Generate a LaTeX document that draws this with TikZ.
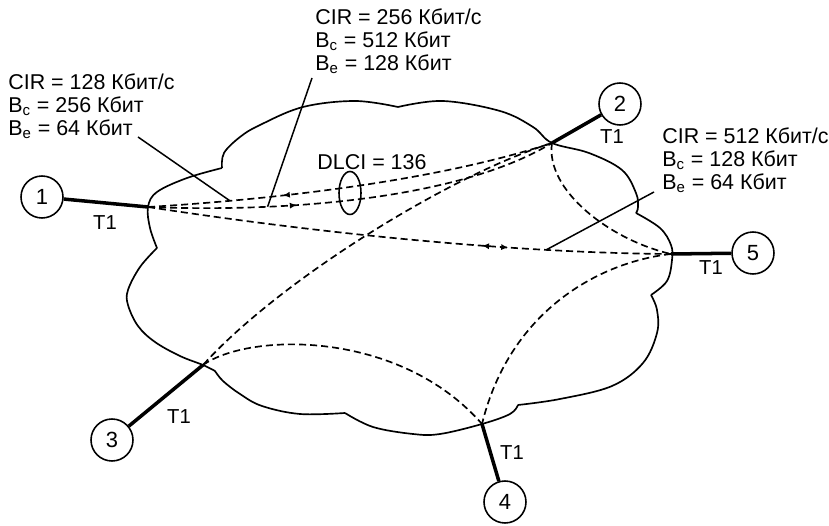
\documentclass[tikz,border=0pt]{standalone}
\usepackage{fontspec}
\setmainfont{Liberation Sans}
\usetikzlibrary{shapes.geometric,decorations.markings,arrows.meta}

\begin{document}
\begin{tikzpicture}[x=0.02cm,y=-0.02cm]
\tikzstyle{station} = [circle, draw=black, line width=0.9pt, minimum size=0.84cm, inner sep=0pt, font=\fontsize{12.5}{13}\selectfont]
\tikzstyle{info} = [align=left, inner sep=0pt, anchor=north west, font=\fontsize{12.2}{13.2}\selectfont]
\tikzstyle{tlabel} = [inner sep=0pt, font=\fontsize{11.5}{12}\selectfont]
\tikzstyle{trunk} = [line width=2pt]
\tikzstyle{cloudline} = [line width=0.95pt, line join=round]
\tikzstyle{vc} = [line width=0.95pt, dash pattern=on 4pt off 2.3pt]
\tikzstyle{leader} = [line width=0.85pt]
\tikzstyle{fwd} = [postaction={decorate, decoration={markings, mark=at position #1 with {\arrow{Latex[length=4pt,width=3.5pt]}}}}]
\tikzstyle{bwd} = [postaction={decorate, decoration={markings, mark=at position #1 with {\arrowreversed{Latex[length=4pt,width=3.5pt]}}}}]
\useasboundingbox (0,0) rectangle (829,526);
\node (n1) [station] at (42,197) {1};
\node (n2) [station] at (620,104) {2};
\node (n3) [station] at (112,440) {3};
\node (n4) [station] at (505,502) {4};
\node (n5) [station] at (753,253) {5};
\coordinate (p1) at (148,207);
\coordinate (p2) at (552,143);
\coordinate (p3) at (203,365);
\coordinate (p4) at (482,424);
\coordinate (p5) at (671,254);
\draw [cloudline] plot [smooth, tension=0.6] coordinates {(157,248) (150,228) (148,207) (157,192) (187,178) (222,168)}
  plot [smooth, tension=0.6] coordinates {(222,168) (224,153) (240,137) (260,125) (303,107) (355,101) (398,107)}
  plot [smooth, tension=0.6] coordinates {(398,107) (443,101) (500,111) (533,127) (552,143) (589,153) (622,170) (636,193) (638,207) (636,213)}
  plot [smooth, tension=0.6] coordinates {(636,213) (660,228) (671,245) (672,260) (667,281) (651,295)}
  plot [smooth, tension=0.6] coordinates {(651,295) (657,310) (657,333) (643,363) (612,386) (560,399) (518,405)}
  plot [smooth, tension=0.6] coordinates {(518,405) (510,414) (482,424) (440,434) (413,434) (373,427) (345,413)}
  plot [smooth, tension=0.6] coordinates {(345,413) (300,414) (262,406) (240,394) (223,381) (215,371)}
  plot [smooth, tension=0.6] coordinates {(215,371) (203,365) (180,356) (155,342) (138,326) (128,305) (128,290) (140,267) (157,248)};
\draw [vc, bwd=0.33] (p1) .. controls (280,199) and (440,180) .. coordinate[pos=0.2] (tap1) (p2);
\draw [vc, fwd=0.36] (p1) .. controls (300,213) and (465,196) .. coordinate[pos=0.26] (tap2) (p2);
\draw [vc, bwd=0.64, fwd=0.69] (p1) .. controls (330,235) and (520,253) .. coordinate[pos=0.74] (tap5) (p5);
\draw [vc] (p2) .. controls (450,175) and (280,280) .. (p3);
\draw [vc] (p2) .. controls (545,190) and (610,240) .. (p5);
\draw [vc] (p5) .. controls (600,262) and (510,310) .. (p4);
\draw [vc] (p3) .. controls (250,332) and (400,330) .. (p4);
\draw [trunk] (n1) -- (p1);
\draw [trunk] (n2) -- (p2);
\draw [trunk] (n3) -- (p3);
\draw [trunk] (n4) -- (p4);
\draw [trunk] (n5) -- (p5);
\node (t1) [tlabel] at (105,223) {T1};
\node (t2) [tlabel] at (612,137) {T1};
\node (t3) [tlabel] at (179,417) {T1};
\node (t4) [tlabel] at (512,453) {T1};
\node (t5) [tlabel] at (711,268) {T1};
\node (cir1) [info] at (8,73) {CIR = 128 Кбит/с\\B\textsubscript{c} = 256 Кбит\\B\textsubscript{e} = 64 Кбит};
\node (cir2) [info] at (315,8) {CIR = 256 Кбит/с\\B\textsubscript{c} = 512 Кбит\\B\textsubscript{e} = 128 Кбит};
\node (cir5) [info] at (662,127) {CIR = 512 Кбит/с\\B\textsubscript{c} = 128 Кбит\\B\textsubscript{e} = 64 Кбит};
\node (dlci) [anchor=base, font=\fontsize{12.2}{13}\selectfont] at (372,170) {DLCI = 136};
\node (ring) [draw, ellipse, line width=0.9pt, minimum width=0.44cm, minimum height=0.86cm, inner sep=0pt] at (350,193) {};
\coordinate (lead1) at (138,137);
\coordinate (lead2) at (312,78);
\coordinate (lead5) at (654,192);
\draw [leader] (lead1) -- (tap1);
\draw [leader] (lead2) -- (tap2);
\draw [leader] (lead5) -- (tap5);
\end{tikzpicture}
\end{document}
